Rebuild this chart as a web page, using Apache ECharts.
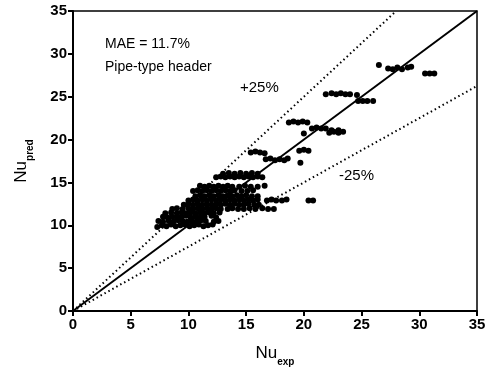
<!DOCTYPE html>
<html>
<head>
<meta charset="utf-8">
<script src="https://cdn.jsdelivr.net/npm/echarts@6/dist/echarts.min.js"></script>
<style>
  html, body { margin: 0; padding: 0; background: #fff; }
  #chart { width: 494px; height: 372px; }
</style>
</head>
<body>
<div id="chart"></div>
<script>
// axis ticks
var axisTicks = [0, 5, 10, 15, 20, 25, 30, 35];

// reference lines: perfect agreement and +/-25%
var lineEqual = [[0, 0], [35, 35]];
var linePlus25 = [[0, 0], [28, 35]];
var lineMinus25 = [[0, 0], [35, 26.25]];

var lowBand = [
  [7.3, 9.8], [7.7, 10.0], [8.1, 9.9], [8.5, 10.1], [8.9, 9.9], [9.3, 10.0], [9.7, 10.1], [10.1, 9.9],
  [10.5, 10.0], [10.9, 10.1], [11.3, 9.9], [11.7, 10.0], [12.1, 10.1],
  [7.4, 10.5], [7.8, 10.4], [8.3, 10.5], [8.7, 10.4], [9.1, 10.6], [9.5, 10.5], [9.9, 10.4], [10.3, 10.5],
  [10.7, 10.4], [11.1, 10.6], [11.5, 10.5], [12.2, 10.4], [12.6, 10.5],
  [7.8, 11.0], [8.2, 10.9], [8.6, 11.0], [9.0, 10.9], [9.4, 11.0], [9.8, 11.1], [10.2, 10.9], [10.6, 11.0],
  [11.0, 10.9], [11.4, 11.0], [12.0, 11.1], [12.4, 10.9]
];
var midBand = [
  [8.0, 11.4], [8.5, 11.5], [9.0, 11.4], [9.4, 11.5], [9.8, 11.4], [10.2, 11.5], [10.6, 11.4], [11.0, 11.5],
  [11.4, 11.4], [11.8, 11.5], [12.2, 11.4], [12.7, 11.5],
  [8.6, 11.9], [9.0, 12.0], [9.5, 11.9], [10.0, 12.0], [10.4, 11.9], [10.8, 12.0], [11.2, 11.9], [11.6, 12.0],
  [12.0, 11.9], [12.4, 12.0], [12.8, 11.9], [13.4, 11.9], [13.8, 12.0], [14.3, 11.9], [14.8, 11.9],
  [15.3, 12.0], [15.8, 11.9], [16.4, 12.0], [16.9, 11.9], [17.4, 11.9],
  [9.6, 12.4], [10.0, 12.5], [10.4, 12.4], [10.8, 12.5], [11.2, 12.4], [11.6, 12.5], [12.0, 12.4], [12.4, 12.5],
  [12.8, 12.4], [13.2, 12.5], [13.6, 12.4], [14.0, 12.5], [14.4, 12.4], [14.8, 12.4], [15.2, 12.5],
  [15.7, 12.4], [16.1, 12.4],
  [10.0, 12.9], [10.4, 13.0], [10.8, 12.9], [11.2, 13.0], [11.6, 12.9], [12.0, 13.0], [12.4, 12.9], [12.8, 13.0],
  [13.2, 12.9], [13.6, 13.0], [14.0, 12.9], [14.4, 13.0], [14.8, 12.9], [15.2, 13.0], [15.6, 12.9],
  [16.0, 13.0], [16.8, 12.9], [17.2, 13.0], [17.6, 12.9], [18.1, 12.9], [18.5, 13.0]
];
var upperBand = [
  [10.6, 13.4], [11.0, 13.5], [11.4, 13.4], [11.8, 13.5], [12.2, 13.4], [12.6, 13.5], [13.0, 13.4], [13.4, 13.5],
  [13.8, 13.4], [14.2, 13.5], [14.6, 13.4], [15.0, 13.5], [15.5, 13.4], [16.0, 13.4],
  [10.4, 14.0], [10.8, 14.1], [11.2, 14.0], [11.6, 14.1], [12.0, 14.0], [12.4, 14.1], [12.8, 14.0], [13.2, 14.1],
  [13.6, 14.0], [14.0, 14.1], [14.6, 14.0], [15.1, 14.0], [15.6, 14.1],
  [11.0, 14.6], [11.4, 14.5], [11.8, 14.6], [12.2, 14.5], [12.6, 14.6], [13.0, 14.5], [13.4, 14.6], [13.8, 14.5],
  [14.4, 14.5], [14.9, 14.6], [15.4, 14.5], [16.0, 14.5], [16.6, 14.6],
  [12.4, 15.6], [12.8, 15.7], [13.2, 15.6], [13.6, 15.7], [14.0, 15.6], [14.4, 15.7], [14.8, 15.6], [15.2, 15.7],
  [15.6, 15.6], [16.0, 15.7], [16.4, 15.6],
  [13.0, 16.0], [13.5, 16.1], [14.0, 16.0], [14.5, 16.1], [15.0, 16.0], [15.5, 16.1], [16.0, 16.0]
];
var highBand = [
  [15.4, 18.5], [15.8, 18.6], [16.2, 18.5], [16.6, 18.4],
  [16.7, 17.7], [17.1, 17.8], [17.5, 17.6], [17.9, 17.7], [18.3, 17.6], [18.6, 17.8],
  [19.6, 18.7], [20.0, 18.8], [20.4, 18.7], [19.7, 17.3],
  [18.7, 22.0], [19.1, 22.1], [19.5, 22.0], [19.9, 22.1], [20.3, 22.0], [20.0, 20.7],
  [20.7, 21.3], [21.1, 21.4], [21.5, 21.3], [21.9, 21.3],
  [22.2, 20.8], [22.6, 20.9], [23.0, 20.8], [23.4, 20.9], [22.4, 21.1], [23.0, 21.1],
  [20.4, 12.9], [20.8, 12.9],
  [21.9, 25.3], [22.4, 25.4], [22.8, 25.3], [23.2, 25.4], [23.6, 25.3], [24.0, 25.3], [24.6, 25.2],
  [24.7, 24.5], [25.1, 24.5], [25.5, 24.5], [26.0, 24.5],
  [26.5, 28.7], [27.3, 28.3], [27.7, 28.2], [28.1, 28.4], [28.5, 28.2], [29.0, 28.4], [29.3, 28.5],
  [30.5, 27.7], [30.9, 27.7], [31.3, 27.7]
];

var pointData = lowBand.concat(midBand, upperBand, highBand);

var myChart = echarts.init(document.getElementById('chart'));

var font = 'Liberation Sans, Arial, sans-serif';

var option = {
  backgroundColor: '#fff',
  animation: false,
  grid: {
    left: 73, right: 17, top: 11, bottom: 61,
    show: true, borderColor: '#000', borderWidth: 1.5
  },
  xAxis: {
    type: 'value', min: 0, max: 35, interval: 5,
    name: '{a|Nu}{b|exp}',
    nameLocation: 'middle', nameGap: 34,
    nameTextStyle: {
      rich: {
        a: { fontFamily: font, fontSize: 17, color: '#000', verticalAlign: 'top' },
        b: { fontFamily: font, fontSize: 10, fontWeight: 'bold', color: '#000', padding: [12, 0, 0, 0], verticalAlign: 'top' }
      }
    },
    axisLine: { lineStyle: { color: '#000', width: 2 } },
    axisTick: { show: true, inside: false, length: 5, lineStyle: { color: '#000', width: 2 } },
    axisLabel: { fontFamily: font, fontSize: 15, fontWeight: 'bold', color: '#000', margin: 6 },
    splitLine: { show: false }
  },
  yAxis: {
    type: 'value', min: 0, max: 35, interval: 5,
    name: '{a|Nu}{b|pred}',
    nameLocation: 'middle', nameGap: 38, nameRotate: 90,
    nameTextStyle: {
      rich: {
        a: { fontFamily: font, fontSize: 17, color: '#000', verticalAlign: 'top' },
        b: { fontFamily: font, fontSize: 10, fontWeight: 'bold', color: '#000', padding: [12, 0, 0, 0], verticalAlign: 'top' }
      }
    },
    axisLine: { lineStyle: { color: '#000', width: 2 } },
    axisTick: { show: true, inside: false, length: 5, lineStyle: { color: '#000', width: 2 } },
    axisLabel: { fontFamily: font, fontSize: 15, fontWeight: 'bold', color: '#000', margin: 6 },
    splitLine: { show: false }
  },
  graphic: [
    { type: 'text', left: 105, top: 37, style: { text: 'MAE = 11.7%', font: '14px ' + font, fill: '#000' } },
    { type: 'text', left: 105, top: 60, style: { text: 'Pipe-type header', font: '14px ' + font, fill: '#000' } },
    { type: 'text', left: 240, top: 80, style: { text: '+25%', font: '15px ' + font, fill: '#000' } },
    { type: 'text', left: 339, top: 168, style: { text: '-25%', font: '15px ' + font, fill: '#000' } }
  ],
  series: [
    {
      type: 'line', data: lineEqual, symbol: 'none', silent: true,
      lineStyle: { color: '#000', width: 2 }
    },
    {
      type: 'line', data: linePlus25, symbol: 'none', silent: true,
      lineStyle: { color: '#000', width: 2, type: [1.5, 3] }
    },
    {
      type: 'line', data: lineMinus25, symbol: 'none', silent: true,
      lineStyle: { color: '#000', width: 2, type: [1.5, 3] }
    },
    {
      type: 'scatter', data: pointData, symbol: 'circle', symbolSize: 6,
      itemStyle: { color: '#000', opacity: 1 }
    }
  ]
};

myChart.setOption(option);
</script>
</body>
</html>
